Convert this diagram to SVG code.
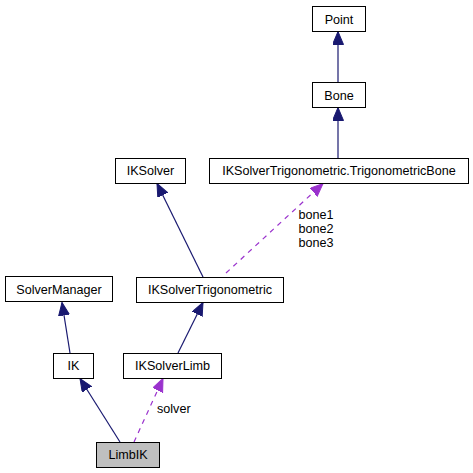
<svg xmlns="http://www.w3.org/2000/svg" width="473" height="473" viewBox="0 0 473 473">
<style>
.box{fill:#ffffff;stroke:#000000;stroke-width:1}
.cur{fill:#bfbfbf;stroke:#000000;stroke-width:1}
text{font-family:"Liberation Sans",Arial,sans-serif;font-size:12.6px;fill:#000000}
.t{text-anchor:middle}
.inh{fill:none;stroke:#191970;stroke-width:1.2}
.use{fill:none;stroke:#9a32cd;stroke-width:1.2;stroke-dasharray:5,5}
</style>
<defs>
<marker id="ah" markerUnits="userSpaceOnUse" markerWidth="14" markerHeight="12" refX="13" refY="5.5" orient="auto">
<path d="M0,0 L13,5.5 L0,11 Z" fill="#191970" stroke="#191970" stroke-width="1"/>
</marker>
<marker id="ap" markerUnits="userSpaceOnUse" markerWidth="14" markerHeight="12" refX="13" refY="5.5" orient="auto">
<path d="M0,0 L13,5.5 L0,11 Z" fill="#9a32cd" stroke="#9a32cd" stroke-width="1"/>
</marker>
</defs>
<rect width="473" height="473" fill="#ffffff"/>
<g id="connectors">
<path class="inh" d="M338,83 L338,31.5" marker-end="url(#ah)"/>
<path class="inh" d="M338,158 L338,107.5" marker-end="url(#ah)"/>
<path class="inh" d="M203,277 L157,183.5" marker-end="url(#ah)"/>
<path class="use" d="M226,273 L323,183.5" marker-end="url(#ap)"/>
<path class="inh" d="M70,353 L62,302.5" marker-end="url(#ah)"/>
<path class="inh" d="M178,353 L203,302.5" marker-end="url(#ah)"/>
<path class="inh" d="M120,442 L80,378.5" marker-end="url(#ah)"/>
<path class="use" d="M134,442 L163,378.5" marker-end="url(#ap)"/>
<text x="316" y="219" class="t">bone1</text>
<text x="316" y="233" class="t">bone2</text>
<text x="316" y="247" class="t">bone3</text>
<text x="157" y="413">solver</text>
</g>
<g id="Point"><rect class="box" x="312.5" y="6.5" width="53" height="25"/><text x="339" y="23.5" class="t">Point</text></g>
<g id="Bone"><rect class="box" x="312.5" y="82.5" width="53" height="25"/><text x="339" y="99.5" class="t">Bone</text></g>
<g id="TrigonometricBone"><rect class="box" x="209.5" y="158.5" width="259" height="25"/><text x="339" y="175" class="t">IKSolverTrigonometric.TrigonometricBone</text></g>
<g id="IKSolver"><rect class="box" x="115.5" y="158.5" width="70" height="25"/><text x="150.5" y="175" class="t">IKSolver</text></g>
<g id="IKSolverTrigonometric"><rect class="box" x="136.5" y="277.5" width="147" height="25"/><text x="210" y="294" class="t">IKSolverTrigonometric</text></g>
<g id="SolverManager"><rect class="box" x="5.5" y="276.5" width="107" height="25"/><text x="59" y="293.5" class="t">SolverManager</text></g>
<g id="IK"><rect class="box" x="53.5" y="353.5" width="40" height="25"/><text x="73.5" y="370" class="t">IK</text></g>
<g id="IKSolverLimb"><rect class="box" x="123.5" y="353.5" width="98" height="25"/><text x="172.5" y="370" class="t">IKSolverLimb</text></g>
<g id="LimbIK"><rect class="cur" x="96.5" y="442.5" width="63" height="25"/><text x="128" y="459" class="t">LimbIK</text></g>
</svg>
